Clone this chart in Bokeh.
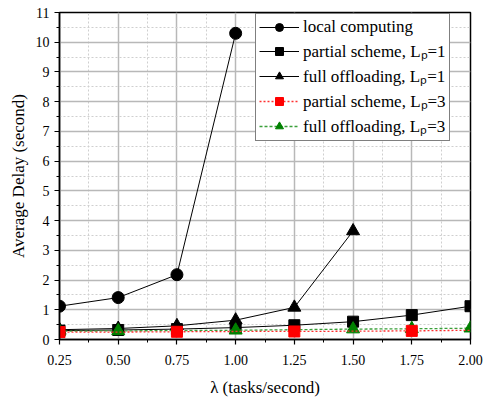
from bokeh.plotting import figure
from bokeh.models import Range1d, FixedTicker, NumeralTickFormatter, Legend, LegendItem
from bokeh.embed import file_html
from bokeh.resources import INLINE

lam = [0.25, 0.50, 0.75, 1.00, 1.25, 1.50, 1.75, 2.00]
local_x = [0.25, 0.50, 0.75, 1.00]
local_y = [1.12, 1.41, 2.18, 10.30]
partial1_y = [0.30, 0.32, 0.35, 0.40, 0.48, 0.60, 0.82, 1.12]
full1_x = [0.25, 0.50, 0.75, 1.00, 1.25, 1.50]
full1_y = [0.33, 0.37, 0.46, 0.65, 1.08, 3.65]
partial3_y = [0.25, 0.25, 0.26, 0.27, 0.27, 0.28, 0.29, 0.31]
partial3_marker_x = [0.25, 0.75, 1.25, 1.75]
partial3_marker_y = [0.25, 0.26, 0.27, 0.29]
full3_y = [0.28, 0.29, 0.30, 0.31, 0.33, 0.35, 0.36, 0.38]
full3_marker_x = [0.25, 0.50, 1.00, 1.50, 1.75, 2.00]
full3_marker_y = [0.28, 0.29, 0.31, 0.35, 0.36, 0.38]

x_ticks = [0.25, 0.50, 0.75, 1.00, 1.25, 1.50, 1.75, 2.00]
x_minor = [0.375, 0.625, 0.875, 1.125, 1.375, 1.625, 1.875]
y_ticks = list(range(0, 12))
y_minor = [0.5 + i for i in range(11)]

FONT = "Liberation Serif"

p = figure(width=491, height=399, output_backend="svg", toolbar_location=None,
           x_range=Range1d(0.25, 2.0), y_range=Range1d(0, 11),
           min_border_left=59, min_border_right=21, min_border_top=12, min_border_bottom=56)
p.background_fill_color = "white"
p.border_fill_color = "white"
p.outline_line_color = "black"
p.outline_line_width = 1.5

p.xaxis.ticker = FixedTicker(ticks=x_ticks, minor_ticks=x_minor)
p.yaxis.ticker = FixedTicker(ticks=y_ticks, minor_ticks=y_minor)
p.xaxis.formatter = NumeralTickFormatter(format="0.00")
for ax in (p.xaxis, p.yaxis):
    ax.axis_line_color = "black"
    ax.axis_line_width = 1.5
    ax.major_tick_line_color = "black"
    ax.major_tick_line_width = 1.2
    ax.minor_tick_line_color = "black"
    ax.major_tick_out = 5
    ax.major_tick_in = 0
    ax.minor_tick_out = 3
    ax.minor_tick_in = 0
    ax.major_label_text_font = FONT
    ax.major_label_text_font_size = "14px"
    ax.major_label_text_color = "black"
    ax.axis_label_text_font = FONT
    ax.axis_label_text_font_size = "17px"
    ax.axis_label_text_font_style = "normal"
    ax.axis_label_text_color = "black"
p.xaxis.axis_label = "λ (tasks/second)"
p.yaxis.axis_label = "Average Delay (second)"
p.xaxis.major_label_standoff = 10
p.yaxis.major_label_standoff = 5
p.xaxis.axis_label_standoff = 10
p.yaxis.axis_label_standoff = 5

for g in (p.xgrid, p.ygrid):
    g.grid_line_color = "#b8b8b8"
    g.grid_line_width = 1.5
    g.minor_grid_line_color = "#cfcfcf"
    g.minor_grid_line_dash = "2 2"
    g.minor_grid_line_width = 1

r_l_line = p.line(local_x, local_y, line_color="black", line_width=1)
r_l_pts = p.scatter(local_x, local_y, marker="circle", size=12, color="black")
r_p1_line = p.line(lam, partial1_y, line_color="black", line_width=1)
r_p1_pts = p.scatter(lam, partial1_y, marker="square", size=11, color="black")
r_f1_line = p.line(full1_x, full1_y, line_color="black", line_width=1)
r_f1_pts = p.scatter(full1_x, full1_y, marker="triangle", size=13, color="black")
r_f3_line = p.line(lam, full3_y, line_color="#3aa03a", line_width=1.3, line_dash="3 2")
r_f3_pts = p.scatter(full3_marker_x, full3_marker_y, marker="triangle", size=13, color="#008000")
r_p3_line = p.line(lam, partial3_y, line_color="#ff3030", line_width=1.3, line_dash="2 2")
r_p3_pts = p.scatter(partial3_marker_x, partial3_marker_y, marker="square", size=11, color="#ff0000")

legend = Legend(items=[
    LegendItem(label="local computing", renderers=[r_l_line, r_l_pts]),
    LegendItem(label="partial scheme, Lₚ=1", renderers=[r_p1_line, r_p1_pts]),
    LegendItem(label="full offloading, Lₚ=1", renderers=[r_f1_line, r_f1_pts]),
    LegendItem(label="partial scheme, Lₚ=3", renderers=[r_p3_line, r_p3_pts]),
    LegendItem(label="full offloading, Lₚ=3", renderers=[r_f3_line, r_f3_pts]),
], location="top_right")
legend.label_text_font = FONT
legend.label_text_font_size = "17px"
legend.label_text_color = "black"
legend.glyph_width = 40
legend.glyph_height = 20
legend.label_height = 20
legend.label_standoff = 4
legend.spacing = 2
legend.padding = 3
legend.margin = 0
legend.location = (196, 198)
legend.border_line_color = "black"
legend.border_line_width = 1.2
legend.background_fill_alpha = 1
p.add_layout(legend, "center")

open("out.html", "w").write(file_html(p, INLINE))
